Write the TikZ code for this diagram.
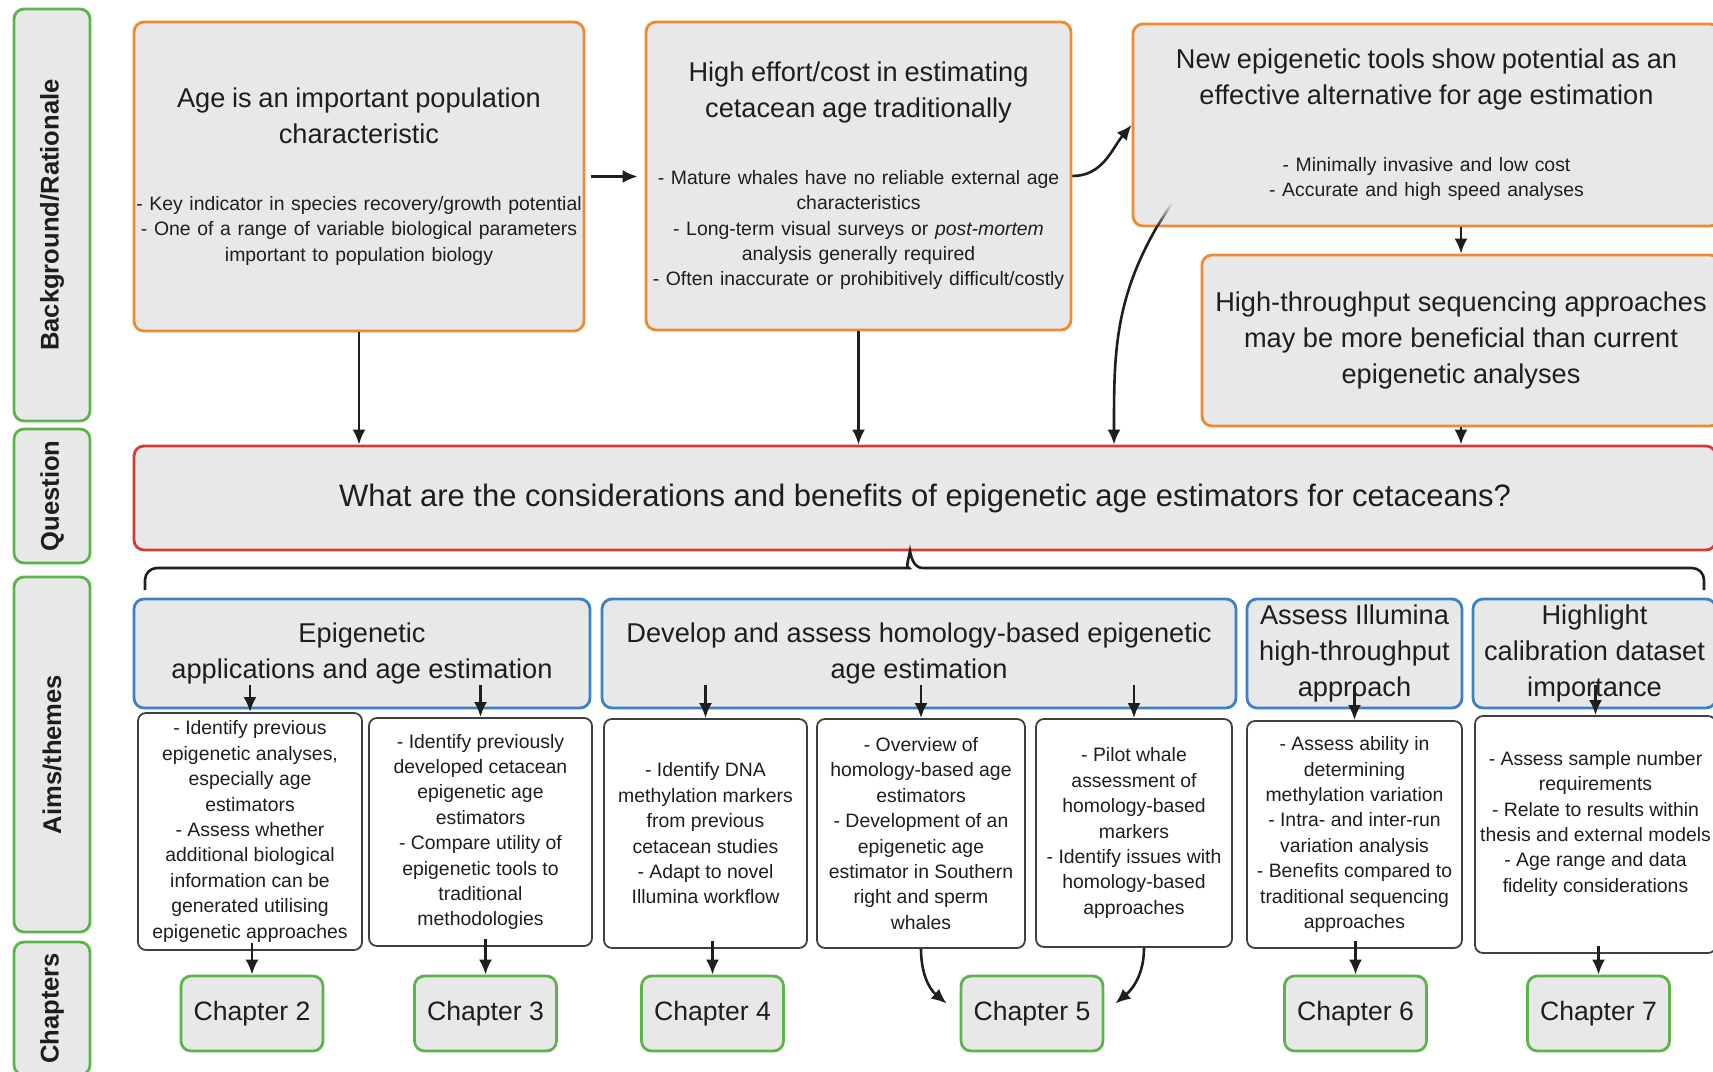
\documentclass[tikz,border=0pt]{standalone}
\usepackage{fontspec}
\setmainfont{Liberation Sans}
\usetikzlibrary{arrows.meta,fadings}

\definecolor{panelgray}{HTML}{E8E8E8}
\definecolor{rationale}{HTML}{EE8B2F}
\definecolor{question}{HTML}{D33B38}
\definecolor{aims}{HTML}{3D80C6}
\definecolor{chapter}{HTML}{5CB54A}
\definecolor{ink}{HTML}{1E1E1E}

\newcommand\headfont{\fontsize{13.6}{17.8}\selectfont}
\newcommand\notefont{\fontsize{9.7}{12.7}\selectfont}

\tikzset{
  panel/.style={draw, fill=panelgray, line width=1.4pt, rounded corners=5pt, text=ink, align=center, inner sep=1pt},
  rationalebox/.style={panel, draw=rationale, inner xsep=-2pt},
  questionbox/.style={panel, draw=question, font=\fontsize{15.5}{18}\selectfont},
  aimbox/.style={panel, draw=aims, font=\headfont, minimum height=54.5pt},
  chapterbox/.style={panel, draw=chapter, font=\fontsize{13.3}{16}\selectfont, minimum width=71pt, minimum height=37.5pt},
  rowlabel/.style={panel, draw=chapter, minimum width=38pt, font=\fontsize{12.8}{15}\selectfont\bfseries},
  notebox/.style={draw=ink!85, fill=white, line width=0.9pt, rounded corners=4pt, text=ink, align=center, inner sep=1pt, font=\notefont, minimum height=114pt},
  link/.style={-{Latex[length=7.5pt,width=6.5pt]}, line width=1.3pt, draw=ink},
}

\begin{document}
\begin{tikzpicture}[x=0.5pt,y=0.5pt]

\useasboundingbox (0,0) rectangle (1713,-1071);
\clip (0,0) rectangle (1713,-1071);
\fill[white] (0,0) rectangle (1713,-1071);

% row labels on the left
\node[rowlabel, minimum height=206pt] (rowBg) at (52,-215) {\rotatebox{90}{Background/Rationale}};
\node[rowlabel, minimum height=67pt] (rowQ) at (52,-496) {\rotatebox{90}{Question}};
\node[rowlabel, minimum height=177.5pt] (rowAims) at (52,-754.5) {\rotatebox{90}{Aims/themes}};
\node[rowlabel, minimum height=66.5pt] (rowCh) at (52,-1008.5) {\rotatebox{90}{Chapters}};

% background / rationale
\node[rationalebox, minimum width=225pt, minimum height=154.5pt, text width=229pt] (age) at (359,-176.5)
  {{\headfont Age is an important population\\characteristic\par}\vspace{20.8pt}
   {\notefont - Key indicator in species recovery/growth potential\\- One of a range of variable biological parameters\\important to population biology\par}};
\node[rationalebox, minimum width=212.5pt, minimum height=154pt, text width=216pt] (effort) at (858.5,-176)
  {{\headfont High effort/cost in estimating\\cetacean age traditionally\par}\vspace{20.8pt}
   {\notefont - Mature whales have no reliable external age\\characteristics\\- Long-term visual surveys or \textit{post-mortem}\\analysis generally required\\- Often inaccurate or prohibitively difficult/costly\par}};
\node[rationalebox, minimum width=293.5pt, minimum height=101pt, text width=297pt] (tools) at (1426.5,-125)
  {{\headfont New epigenetic tools show potential as an\\effective alternative for age estimation\par}\vspace{20.8pt}
   {\notefont - Minimally invasive and low cost\\- Accurate and high speed analyses\par}};
\node[rationalebox, font=\headfont, minimum width=259pt, minimum height=85.5pt] (sequencing) at (1461,-340.5)
  {High-throughput sequencing approaches\\may be more beneficial than current\\epigenetic analyses};

% question
\node[questionbox, minimum width=791pt, minimum height=52pt] (question) at (925,-498)
  {What are the considerations and benefits of epigenetic age estimators for cetaceans?};

% bracket under the question
\draw[line width=1.3pt, ink] (145,-590) [rounded corners=6pt] |- (897,-568) [sharp corners]
  to[out=0,in=-100] (910,-551) to[out=-80,in=180] (923,-568) [rounded corners=6pt] -| (1704,-590);

% aims / themes
\node[aimbox, minimum width=228pt] (aimEpi) at (362,-653.5) {Epigenetic\\applications and age estimation};
\node[aimbox, minimum width=317pt] (aimHom) at (919,-653.5) {Develop and assess homology-based epigenetic\\age estimation};
\node[aimbox, minimum width=107.5pt] (aimIll) at (1354.5,-653.5) {Assess Illumina\\high-throughput\\approach};
\node[aimbox, minimum width=121.5pt] (aimCal) at (1594.5,-653.5) {Highlight\\calibration dataset\\importance};

\node[notebox, minimum width=112pt, minimum height=118.5pt] (noteEpiA) at (250,-831.5)
  {- Identify previous\\epigenetic analyses,\\especially age\\estimators\\- Assess whether\\additional biological\\information can be\\generated utilising\\epigenetic approaches};
\node[notebox, minimum width=111.5pt] (noteEpiB) at (480.5,-832)
  {- Identify previously\\developed cetacean\\epigenetic age\\estimators\\- Compare utility of\\epigenetic tools to\\traditional\\methodologies};
\node[notebox, minimum width=101.5pt, minimum height=114.5pt] (noteHomA) at (705.5,-833.5)
  {- Identify DNA\\methylation markers\\from previous\\cetacean studies\\- Adapt to novel\\Illumina workflow};
\node[notebox, minimum width=104pt, minimum height=114.5pt] (noteHomB) at (921,-833.5)
  {- Overview of\\homology-based age\\estimators\\- Development of an\\epigenetic age\\estimator in Southern\\right and sperm\\whales};
\node[notebox, minimum width=98pt] (noteHomC) at (1134,-833)
  {- Pilot whale\\assessment of\\homology-based\\markers\\- Identify issues with\\homology-based\\approaches};
\node[notebox, minimum width=107.5pt, minimum height=113.5pt] (noteIll) at (1354.5,-834.5)
  {- Assess ability in\\determining\\methylation variation\\- Intra- and inter-run\\variation analysis\\- Benefits compared to\\traditional sequencing\\approaches};
\node[notebox, minimum width=120.5pt, minimum height=118.5pt] (noteCal) at (1595.5,-834.5)
  {- Assess sample number\\requirements\\- Relate to results within\\thesis and external models\\- Age range and data\\fidelity considerations\\\mbox{}};

% chapters
\node[chapterbox] (ch2) at (252,-1013.5) {Chapter 2};
\node[chapterbox] (ch3) at (485.5,-1013.5) {Chapter 3};
\node[chapterbox] (ch4) at (712.5,-1013.5) {Chapter 4};
\node[chapterbox] (ch5) at (1032,-1013.5) {Chapter 5};
\node[chapterbox] (ch6) at (1355.5,-1013.5) {Chapter 6};
\node[chapterbox] (ch7) at (1598.5,-1013.5) {Chapter 7};

% arrows between the rationale boxes
\draw[link] ([xshift=3pt]age.east) -- ([xshift=-3.5pt]age.east -| effort.west);
\draw[link] (effort.east) to[out=0,in=-130] (tools.west);
\draw[link] (sequencing.north |- tools.south) -- (sequencing.north);

% into the question
\draw[link] (age.south) -- (age.south |- question.north);
\draw[link] (effort.south) -- (effort.south |- question.north);
\draw[line width=1.3pt, ink, path fading=north] ([xshift=20pt,yshift=12pt]tools.south west) -- ([xshift=12.5pt]tools.south west);
\draw[link] ([xshift=12.5pt]tools.south west) to[out=240,in=90] ([xshift=94.5pt]question.north);
\draw[link] (sequencing.south) -- (sequencing.south |- question.north);

% aims down to notes
\foreach \aim/\note in {aimEpi/noteEpiA, aimEpi/noteEpiB, aimHom/noteHomA, aimHom/noteHomB, aimHom/noteHomC, aimIll/noteIll, aimCal/noteCal}
  \draw[link] (\note.north |- \aim.south) ++(0,24) -- (\note.north);

% notes down to chapters
\foreach \note/\chap in {noteEpiA/ch2, noteEpiB/ch3, noteHomA/ch4, noteIll/ch6, noteCal/ch7}
  \draw[link] (\chap.north |- \note.south) ++(0,8) -- (\chap.north);
\draw[link] (noteHomB.south) to[out=-90,in=140] ([xshift=-6.5pt,yshift=5pt]ch5.west);
\draw[link] ([xshift=5pt]noteHomC.south) to[out=-90,in=40] ([xshift=5.5pt,yshift=5pt]ch5.east);

\end{tikzpicture}
\end{document}
